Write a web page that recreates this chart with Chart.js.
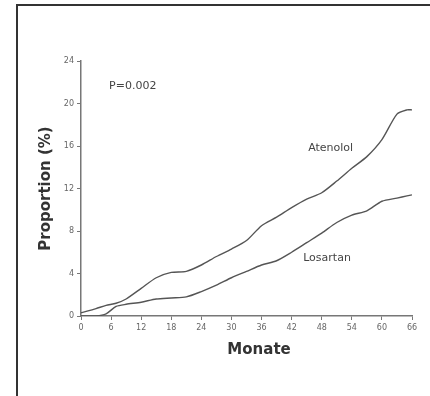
<!DOCTYPE html>
<html>
<head>
<meta charset="utf-8">
<script src="https://cdn.jsdelivr.net/npm/chart.js@4"></script>
<style>
  html, body { margin: 0; padding: 0; background: #fff; }
  #frame { position: absolute; left: 16px; top: 4px; width: 414px; height: 392px;
           border-top: 2px solid #333; border-left: 2px solid #333; }
  #c { position: absolute; left: 0; top: 0; }
</style>
</head>
<body>
<div id="frame"></div>
<canvas id="c" width="430" height="396"></canvas>
<script>
const months   = [0, 3, 5, 7, 9, 12, 15, 18, 21, 24, 27, 30, 33, 36, 39, 42, 45, 48, 51, 54, 57, 60, 63, 65, 66];
const atenolol = [0.3, 0.7, 1.0, 1.2, 1.6, 2.6, 3.6, 4.1, 4.2, 4.8, 5.6, 6.3, 7.1, 8.5, 9.3, 10.2, 11.0, 11.6, 12.7, 13.9, 15.0, 16.6, 19.0, 19.4, 19.4];
const losartan = [0.0, 0.0, 0.2, 0.9, 1.1, 1.3, 1.6, 1.7, 1.8, 2.3, 2.9, 3.6, 4.2, 4.8, 5.2, 6.0, 6.9, 7.8, 8.8, 9.5, 9.9, 10.8, 11.1, 11.3, 11.4];
const xTicks = [0, 6, 12, 18, 24, 30, 36, 42, 48, 54, 60, 66];
const yTicks = [0, 4, 8, 12, 16, 20, 24];

// text placed in data coordinates
const notes = [
  { text: "P=0.002", x: 5.6, y: 21.6, size: 11 },
  { text: "Atenolol", x: 45.3, y: 15.8, size: 11 },
  { text: "Losartan", x: 44.3, y: 5.4, size: 11 }
];

const F = "'DejaVu Sans', Verdana, sans-serif";
const lineCol = "#555";
const axisCol = "#777";

const notesPlugin = {
  id: "notes",
  afterDatasetsDraw(chart) {
    const ctx = chart.ctx;
    const xs = chart.scales.x, ys = chart.scales.y;
    ctx.save();
    ctx.fillStyle = "#444";
    ctx.textAlign = "left";
    ctx.textBaseline = "middle";
    notes.forEach(n => {
      ctx.font = n.size + "px " + F;
      ctx.fillText(n.text, xs.getPixelForValue(n.x), ys.getPixelForValue(n.y));
    });
    // x axis title sits a little right of centre in the original
    ctx.font = "bold 15px " + F;
    ctx.fillStyle = "#333";
    ctx.textAlign = "center";
    ctx.fillText("Monate", xs.getPixelForValue(35.5), 350);
    ctx.restore();
  }
};

function series(vals) {
  return months.map((m, i) => ({ x: m, y: vals[i] }));
}

new Chart(document.getElementById("c"), {
  type: "line",
  data: {
    datasets: [
      { label: "Atenolol", data: series(atenolol), borderColor: lineCol, borderWidth: 1.4, pointRadius: 0, tension: 0.25 },
      { label: "Losartan", data: series(losartan), borderColor: lineCol, borderWidth: 1.4, pointRadius: 0, tension: 0.25 }
    ]
  },
  options: {
    responsive: false,
    animation: false,
    layout: { padding: { left: 30, top: 61, right: 18, bottom: 30 } },
    plugins: { legend: { display: false }, tooltip: { enabled: false } },
    scales: {
      x: {
        type: "linear", min: 0, max: 66,
        afterBuildTicks: s => { s.ticks = xTicks.map(v => ({ value: v })); },
        afterFit: s => { s.height = 50; },
        grid: { drawOnChartArea: false, tickLength: 4, color: axisCol },
        border: { color: axisCol, width: 1.5 },
        ticks: { color: "#666", font: { family: F, size: 8 }, padding: 3, maxRotation: 0 },
        title: { display: false }
      },
      y: {
        min: 0, max: 24,
        afterBuildTicks: s => { s.ticks = yTicks.map(v => ({ value: v })); },
        afterFit: s => { s.width = 51; },
        grid: { drawOnChartArea: false, tickLength: 4, color: axisCol },
        border: { color: axisCol, width: 1.5 },
        ticks: { color: "#666", font: { family: F, size: 8 }, padding: 3 },
        title: { display: true, text: "Proportion (%)", color: "#333", font: { family: F, size: 15, weight: "bold" }, padding: 7 }
      }
    }
  },
  plugins: [notesPlugin]
});
</script>
</body>
</html>
